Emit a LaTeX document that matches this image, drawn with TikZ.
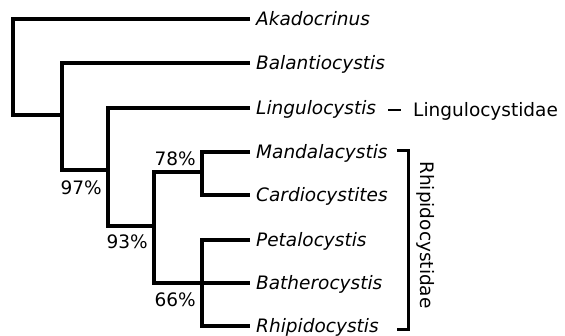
\documentclass[tikz,border=0pt]{standalone}
\usepackage{fontspec}
\setmainfont{DejaVu Sans}
\begin{document}
\begin{tikzpicture}[x=1pt,y=-1pt,
  br/.style={line width=3.3pt, line join=miter},
  sp/.style={font=\fontsize{18.5}{22}\selectfont\itshape, anchor=base west, inner sep=0pt},
  pct/.style={font=\fontsize{18.5}{22}\selectfont, anchor=base east, inner sep=0pt},
  fam/.style={font=\fontsize{18.5}{22}\selectfont, inner sep=0pt}]
\useasboundingbox (0,0) rectangle (565,336);
% tips
\coordinate (t1) at (250,19);
\coordinate (t2) at (250,63);
\coordinate (t3) at (250,108);
\coordinate (t4) at (250,152);
\coordinate (t5) at (250,195);
\coordinate (t6) at (250,240);
\coordinate (t7) at (250,283);
\coordinate (t8) at (250,326);
% internal nodes
\coordinate (root) at (13,115);
\coordinate (c97) at (62,115);
\coordinate (n97) at (62,170);
\coordinate (c93) at (108,170);
\coordinate (n93) at (108,226);
\coordinate (c66) at (154,226);
\coordinate (n66a) at (154,172);
\coordinate (n66b) at (154,283);
\coordinate (m78) at (202,172);
\coordinate (a78) at (202,152);
\coordinate (b78) at (202,195);
\coordinate (apb) at (202,240);
\coordinate (bpb) at (202,326);
% tree
\draw[br] (t1) -| (root) -- (c97);
\draw[br] (t2) -| (n97) -- (c93);
\draw[br] (t3) -| (n93) -- (c66);
\draw[br] (m78) -- (n66a) -- (n66b) -- (t7);
\draw[br] (t4) -- (a78) -- (b78) -- (t5);
\draw[br] (t6) -- (apb) -- (bpb) -- (t8);
% species labels
\node[sp] (akad) at (256,25.5) {Akadocrinus};
\node[sp] (bala) at (256,69.5) {Balantiocystis};
\node[sp] (ling) at (256,114.5) {Lingulocystis};
\node[sp] (mand) at (256,158.5) {Mandalacystis};
\node[sp] (card) at (256,201.5) {Cardiocystites};
\node[sp] (peta) at (256,246.5) {Petalocystis};
\node[sp] (bath) at (256,289.5) {Batherocystis};
\node[sp] (rhip) at (256,332.5) {Rhipidocystis};
% support values
\node[pct] (pc97) at (102,194.5) {97\%};
\node[pct] (pc93) at (148,248.5) {93\%};
\node[pct] (pc78) at (196,165.5) {78\%};
\node[pct] (pc66) at (196,306.5) {66\%};
% Lingulocystidae
\coordinate (d1) at (388,110);
\coordinate (d2) at (401,110);
\draw[line width=2.8pt] (d1) -- (d2);
\node[fam, anchor=base west] (lfam) at (413,116.5) {Lingulocystidae};
% Rhipidocystidae bracket
\coordinate (k1) at (397,151);
\coordinate (k2) at (408,151);
\coordinate (k3) at (408,330);
\coordinate (k4) at (397,330);
\draw[br, line width=3pt] (k1) -- (k2) -- (k3) -- (k4);
\node[fam, rotate=-90] (rfam) at (426,235) {Rhipidocystidae};
\end{tikzpicture}
\end{document}
